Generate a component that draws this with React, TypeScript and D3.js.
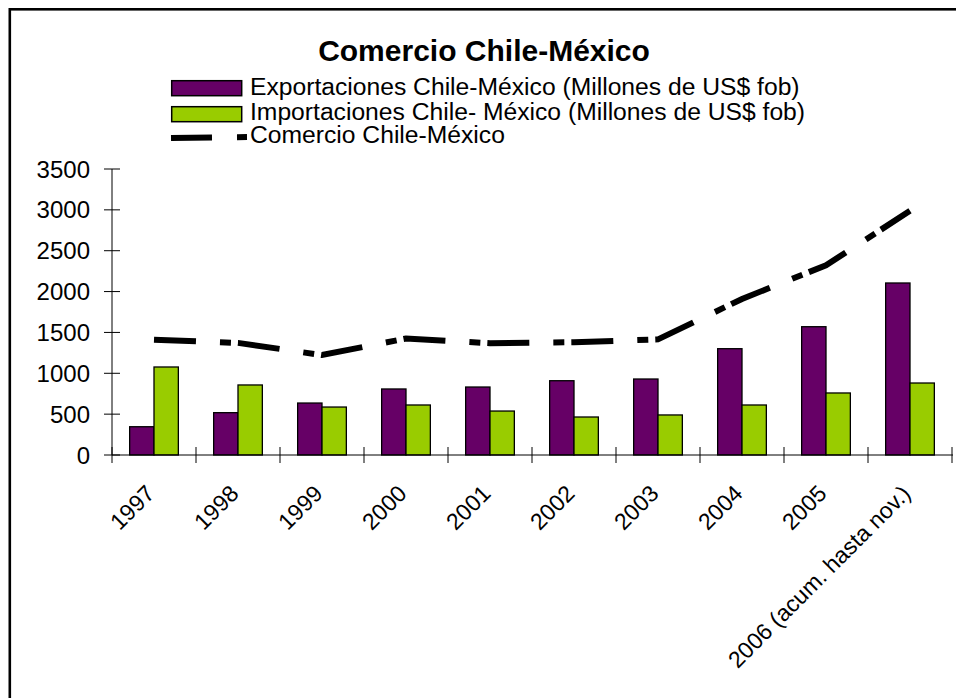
import React from "react";
import * as d3 from "d3";

const categories = ["1997", "1998", "1999", "2000", "2001", "2002", "2003", "2004", "2005", "2006 (acum. hasta nov.)"];
const exportaciones = [346, 518, 636, 808, 832, 909, 930, 1301, 1570, 2105];
const importaciones = [1077, 857, 587, 612, 538, 465, 490, 612, 759, 881];
const comercio = [1410, 1372, 1223, 1425, 1368, 1380, 1415, 1910, 2322, 2988];
const yTicks = [0, 500, 1000, 1500, 2000, 2500, 3000, 3500];
const seriesNames = [
  "Exportaciones Chile-México (Millones de US$ fob)",
  "Importaciones Chile- México (Millones de US$ fob)",
  "Comercio Chile-México",
];
const title = "Comercio Chile-México";

const PURPLE = "#660066";
const GREEN = "#99CC00";
const FONT = "'Liberation Sans', Arial, sans-serif";

export default function App() {
  const W = 956, H = 698;
  const x0 = 112, x1 = 952, yTop = 169, yBot = 455;
  const x = d3.scaleBand<string>().domain(categories).range([x0, x1]).padding(0);
  const xs = d3.scaleBand<string>().domain(["exp", "imp"]).range([0, x.bandwidth()]).paddingInner(0).paddingOuter(0.725);
  const y = d3.scaleLinear().domain([0, 3500]).range([yBot, yTop]);
  const line = d3.line<number>()
    .x((_, i) => (x(categories[i]) as number) + x.bandwidth() / 2)
    .y((d) => y(d));

  const dash = "42 24 11 7";
  const legendY = [95, 119.5, 143];

  return (
    <svg width={W} height={H} style={{ position: "absolute", left: 0, top: 0, background: "#fff" }} fontFamily={FONT}>
      <rect x={0} y={0} width={W} height={H} fill="#fff" />
      <rect x={9.8} y={9.3} width={1000} height={800} fill="none" stroke="#000" strokeWidth={2.6} />

      {/* title */}
      <text x={484} y={60.5} textAnchor="middle" fontSize={30} fontWeight="bold">{title}</text>

      {/* legend */}
      <rect x={171.7} y={80.7} width={70} height={15} fill={PURPLE} stroke="#000" strokeWidth={1.5} />
      <rect x={171.7} y={106.7} width={70} height={15} fill={GREEN} stroke="#000" strokeWidth={1.5} />
      <line x1={171} x2={247} y1={138} y2={137} stroke="#000" strokeWidth={6} strokeDasharray="41 25 11 40" />
      {seriesNames.map((s, i) => (
        <text key={s} transform={`translate(250,${legendY[i]}) scale(1.05,1)`} fontSize={23.5}>{s}</text>
      ))}

      {/* y axis */}
      <line x1={x0} x2={x0} y1={yTop} y2={yBot} stroke="#000" strokeWidth={1} />
      {yTicks.map((t) => (
        <g key={t}>
          <line x1={104} x2={120} y1={y(t)} y2={y(t)} stroke="#000" strokeWidth={1} />
          <text x={90} y={y(t)} dy="0.36em" textAnchor="end" fontSize={24}>{t}</text>
        </g>
      ))}

      {/* bars */}
      {categories.map((c, i) => (
        <g key={c}>
          <rect x={(x(c) as number) + (xs("exp") as number)} y={y(exportaciones[i])} width={xs.bandwidth()} height={yBot - y(exportaciones[i])} fill={PURPLE} stroke="#000" strokeWidth={1.3} />
          <rect x={(x(c) as number) + (xs("imp") as number)} y={y(importaciones[i])} width={xs.bandwidth()} height={yBot - y(importaciones[i])} fill={GREEN} stroke="#000" strokeWidth={1.3} />
        </g>
      ))}

      {/* x axis */}
      <line x1={x0} x2={x1 + 1} y1={yBot} y2={yBot} stroke="#000" strokeWidth={1} />
      {d3.range(categories.length + 1).map((i) => {
        const xx = x0 + i * x.step();
        return <line key={i} x1={xx} x2={xx} y1={447} y2={463} stroke="#000" strokeWidth={1} />;
      })}
      {categories.map((c) => {
        const cx = (x(c) as number) + x.bandwidth() / 2;
        return (
          <text key={c} transform={`translate(${cx + 2},${495}) rotate(-45)`} textAnchor="end" fontSize={23}>{c}</text>
        );
      })}

      {/* line */}
      <path d={line(comercio) || ""} fill="none" stroke="#000" strokeWidth={6} strokeDasharray={dash} />
    </svg>
  );
}
